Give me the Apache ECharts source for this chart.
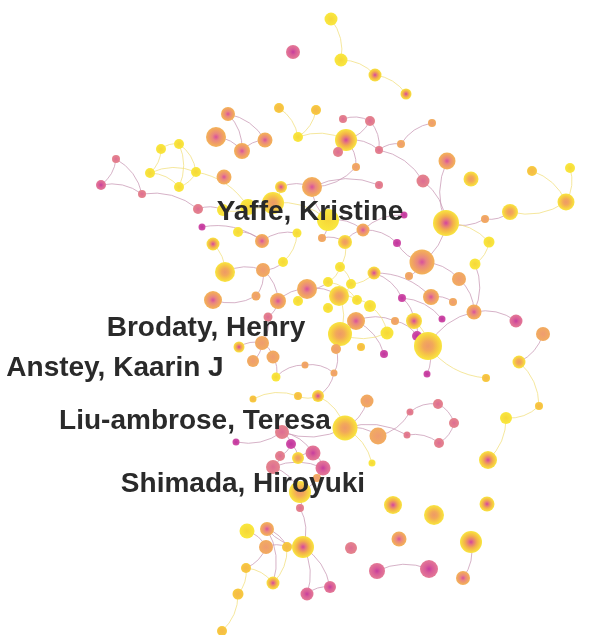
<!DOCTYPE html>
<html>
<head>
<meta charset="utf-8">
<script src="https://cdn.jsdelivr.net/npm/echarts@6/dist/echarts.min.js"></script>
<style>
  html, body { margin: 0; padding: 0; background: #fff; }
  #chart { width: 595px; height: 635px; }
</style>
</head>
<body>
<div id="chart"></div>
<script>
// nodes: [x, y, diameter, kind]
const nodes = [
  [331,19,13,'y'],[341,60,13,'y'],[375,75,13,'yp'],[406,94,11,'yp'],[293,52,14,'pm'],
  [228,114,14,'op'],[279,108,10,'g'],[216,137,20,'op'],[242,151,16,'op'],[265,140,15,'op'],
  [298,137,10,'y'],[316,110,10,'g'],[343,119,8,'p'],[370,121,10,'p'],[346,140,22,'yp'],
  [338,152,10,'p'],[379,150,8,'p'],[401,144,8,'o'],[432,123,8,'o'],[356,167,8,'o'],
  [379,185,8,'p'],[312,187,20,'op'],[423,181,13,'p'],[447,161,17,'op'],[471,179,15,'yo'],
  [532,171,10,'g'],[570,168,10,'y'],[566,202,17,'yo'],[510,212,16,'yo'],[446,223,26,'yp'],
  [485,219,8,'o'],
  [161,149,10,'y'],[179,144,10,'y'],[150,173,10,'y'],[196,172,10,'y'],[179,187,10,'y'],
  [224,177,15,'op'],[116,159,8,'p'],[101,185,10,'pm'],[142,194,8,'p'],[198,209,10,'p'],
  [281,187,12,'yp'],[273,203,22,'yo'],[248,207,16,'y'],[223,210,12,'y'],[328,220,22,'y'],
  [363,230,13,'op'],[404,215,7,'m'],[397,243,8,'m'],[322,238,8,'o'],[345,242,14,'yo'],
  [489,242,11,'y'],[422,262,25,'op'],[475,264,11,'y'],[340,267,10,'y'],[374,273,13,'yp'],
  [409,276,8,'o'],[459,279,14,'o'],[328,282,10,'y'],[351,284,10,'y'],[307,289,20,'op'],
  [339,296,20,'yo'],[402,298,8,'m'],[431,297,16,'op'],[453,302,8,'o'],[357,300,10,'y'],
  [298,301,10,'y'],[370,306,12,'y'],[328,308,10,'y'],[474,312,15,'op'],[516,321,13,'pm'],
  [356,321,18,'op'],[395,321,8,'o'],[414,321,16,'yp'],[442,319,7,'m'],[387,333,13,'y'],
  [417,336,10,'m'],[340,334,24,'yo'],[428,346,28,'yo'],[543,334,14,'o'],[336,349,10,'o'],
  [361,347,8,'g'],[384,354,8,'m'],[305,365,7,'o'],[334,373,7,'o'],[427,374,7,'m'],
  [519,362,13,'yo'],[486,378,8,'g'],[539,406,8,'g'],
  [202,227,7,'m'],[238,232,10,'y'],[213,244,13,'yp'],[262,241,14,'op'],[297,233,9,'y'],
  [283,262,10,'y'],[225,272,20,'yo'],[263,270,14,'o'],[256,296,9,'o'],[213,300,18,'op'],
  [278,301,16,'op'],[268,317,9,'p'],[239,347,11,'yp'],[262,343,14,'o'],[253,361,12,'o'],
  [273,357,13,'o'],[276,377,9,'y'],[253,399,7,'g'],[298,396,8,'g'],[318,396,12,'yp'],
  [367,401,13,'o'],[438,404,10,'p'],[410,412,7,'p'],[454,423,10,'p'],[506,418,12,'y'],
  [345,428,25,'yo'],[378,436,17,'o'],[407,435,7,'p'],[439,443,10,'p'],[372,463,7,'y'],
  [282,432,14,'p'],[236,442,7,'m'],[291,444,10,'m'],[280,456,10,'p'],[298,458,12,'yo'],
  [313,453,15,'pm'],[273,467,14,'p'],[323,468,15,'pm'],[317,478,8,'o'],[300,492,22,'yo'],
  [300,508,8,'p'],[488,460,18,'yp'],[393,505,18,'yp'],[434,515,20,'yo'],[487,504,15,'yp'],
  [303,547,22,'yp'],[351,548,12,'p'],[399,539,15,'op'],[471,542,22,'yp'],[377,571,16,'pm'],
  [429,569,18,'pm'],[463,578,14,'op'],[307,594,13,'pm'],[330,587,12,'pm'],[247,531,15,'y'],
  [267,529,14,'op'],[266,547,14,'o'],[287,547,10,'g'],[246,568,10,'g'],[273,583,13,'yp'],
  [238,594,11,'g'],[222,631,10,'g']
];

const links = [
  [0,1],[1,2],[2,3],
  [5,8],[5,9],[7,8],[8,9],[6,10],[11,10],[10,14],[12,13],[13,16],[13,14],[14,15],[14,16],
  [16,17],[17,18],[16,22],[19,21],[21,20],[14,19],[22,29],[25,27],[26,27],[27,28],[28,30],
  [30,29],[29,23],
  [31,32],[31,33],[32,34],[33,34],[33,35],[34,35],[32,35],[34,43],
  [37,38],[37,39],[38,39],[39,40],[40,44],
  [41,42],[42,43],[43,44],[42,45],[41,21],[45,21],
  [45,46],[46,47],[46,48],[45,49],[49,50],[50,46],[29,52],[29,51],[51,53],[52,48],[52,56],
  [52,57],[57,69],[69,70],[53,69],[55,62],[62,74],[62,73],[73,76],[76,78],[78,85],[78,69],
  [71,72],[72,76],[71,82],[77,80],[77,71],[61,77],[60,61],[58,60],[59,61],[54,59],[54,58],
  [58,65],[65,67],[67,75],[75,77],[61,65],[50,54],[55,59],[55,63],[63,64],[73,78],[79,86],
  [86,88],[87,78],[88,113],
  [89,92],[90,92],[91,95],[92,93],[93,94],[94,96],[95,96],[96,97],[96,99],[97,98],[99,60],
  [99,100],[100,102],[101,102],[102,103],[102,104],[104,105],[105,83],[83,84],[84,108],
  [108,107],[106,107],[108,114],[109,114],[80,84],
  [114,115],[114,116],[114,119],[119,120],[119,121],[119,124],[121,122],[121,123],[122,125],
  [123,124],[124,126],[125,126],[126,128],[125,128],[128,129],[129,134],[134,144],[144,146],
  [143,145],[145,146],[145,147],[144,148],[146,148],[147,149],[149,150],[147,148],[134,141],
  [134,142],[141,142],[138,139],[137,140],[110,112],[111,115],[112,117],[116,117],[111,110],
  [114,118],[113,130]
];

// author labels: [x, y, name]
const authors = [
  [310, 212, 'Yaffe, Kristine'],
  [206, 328, 'Brodaty, Henry'],
  [115, 368, 'Anstey, Kaarin J'],
  [195, 421, 'Liu-ambrose, Teresa'],
  [243, 484, 'Shimada, Hiroyuki']
];

const palette = {
  y:  [[0, '#f6d63a'], [1, '#f9e83e']],
  g:  [[0, '#f5b94a'], [0.6, '#f6c244'], [1, '#f8cc3e']],
  yo: [[0, '#ee9a66'], [0.35, '#f2a85a'], [0.65, '#f6c646'], [1, '#f9e63e']],
  yp: [[0, '#d4449c'], [0.25, '#e67a7a'], [0.55, '#f3b04a'], [1, '#f9e63e']],
  o:  [[0, '#ef9c70'], [0.5, '#f0a468'], [1, '#f2ac5e']],
  op: [[0, '#d8509c'], [0.35, '#e98680'], [0.7, '#f0a064'], [1, '#f4b458']],
  p:  [[0, '#de6c92'], [0.5, '#e27a90'], [1, '#e4848c']],
  pm: [[0, '#c63c9e'], [0.4, '#d85c98'], [1, '#e47a96']],
  m:  [[0, '#c0349e'], [1, '#d050a8']]
};
const yellowish = { y: 1, g: 1, yo: 1, yp: 1 };

function grad(kind) {
  return {
    type: 'radial', x: 0.5, y: 0.5, r: 0.5,
    colorStops: palette[kind].map(function (s) { return { offset: s[0], color: s[1] }; })
  };
}

const graphData = nodes.map(function (n) {
  return {
    value: [n[0], n[1]],
    symbolSize: n[2],
    itemStyle: { color: grad(n[3]) }
  };
});

const graphLinks = links.map(function (l) {
  const warm = yellowish[nodes[l[0]][3]] && yellowish[nodes[l[1]][3]];
  return {
    source: l[0], target: l[1],
    lineStyle: { color: warm ? '#f1df7c' : '#c898b4' }
  };
});

const chart = echarts.init(document.getElementById('chart'));
chart.setOption({
  backgroundColor: '#ffffff',
  animation: false,
  grid: { left: 0, right: 0, top: 0, bottom: 0 },
  xAxis: { type: 'value', min: 0, max: 595, show: false },
  yAxis: { type: 'value', min: 0, max: 635, inverse: true, show: false },
  series: [{
    type: 'graph',
    coordinateSystem: 'cartesian2d',
    layout: 'none',
    data: graphData,
    links: graphLinks,
    symbol: 'circle',
    lineStyle: { width: 1, opacity: 0.75, curveness: 0.22 },
    label: { show: false },
    emphasis: { disabled: true },
    z: 2
  }, {
    type: 'scatter',
    data: authors,
    symbolSize: 0,
    silent: true,
    z: 5,
    itemStyle: { opacity: 1 },
    label: {
      show: true,
      position: 'inside',
      align: 'center',
      verticalAlign: 'middle',
      formatter: function (p) { return p.value[2]; },
      fontFamily: 'Liberation Sans',
      fontWeight: 'bold',
      fontSize: 28,
      color: '#2a2a2a'
    }
  }]
});
</script>
</body>
</html>
